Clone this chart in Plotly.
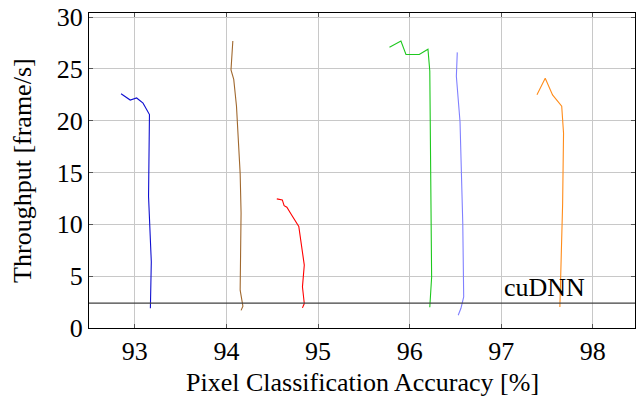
import plotly.graph_objects as go

# Data (accuracy %, throughput frame/s)
blue_x = [92.85, 92.95, 93.02, 93.09, 93.16, 93.15, 93.18, 93.17]
blue_y = [22.6, 22.0, 22.2, 21.7, 20.6, 12.7, 6.4, 1.9]

brown_x = [94.07, 94.05, 94.08, 94.11, 94.15, 94.16, 94.15, 94.18, 94.16]
brown_y = [27.7, 24.9, 24.0, 21.4, 14.9, 11.1, 3.65, 2.1, 1.7]

red_x = [94.55, 94.61, 94.63, 94.66, 94.70, 94.79, 94.85, 94.83, 94.85, 94.83]
red_y = [12.46, 12.36, 11.8, 11.65, 11.07, 9.8, 6.07, 3.97, 2.36, 1.94]

green_x = [95.78, 95.905, 95.96, 96.105, 96.20, 96.22, 96.24, 96.22]
green_y = [27.1, 27.7, 26.4, 26.4, 26.9, 24.8, 4.9, 2.0]

lblue_x = [96.52, 96.51, 96.55, 96.58, 96.59, 96.56, 96.53]
lblue_y = [26.6, 24.3, 19.9, 10.1, 3.0, 1.9, 1.23]

orange_x = [97.39, 97.48, 97.56, 97.66, 97.68, 97.67, 97.64]
orange_y = [22.5, 24.1, 22.5, 21.4, 18.8, 12.0, 2.03]

cudnn_y = 2.4
cudnn_label = "cuDNN"

x_ticks = [93, 94, 95, 96, 97, 98]
y_ticks = [0, 5, 10, 15, 20, 25, 30]

x_title = "Pixel Classification Accuracy [%]"
y_title = "Throughput [frame/s]"

series = [
    (blue_x, blue_y, "#1010d0"),
    (brown_x, brown_y, "#a0682e"),
    (red_x, red_y, "#ff0000"),
    (green_x, green_y, "#1ec81e"),
    (lblue_x, lblue_y, "#8080ff"),
    (orange_x, orange_y, "#ff8c1a"),
]

FONT = "Liberation Serif"
FS = 26

fig = go.Figure()
for xs, ys, c in series:
    fig.add_trace(go.Scatter(x=xs, y=ys, mode="lines", hoverinfo="skip",
                             line=dict(color=c, width=1.1), showlegend=False))

fig.add_shape(type="line", xref="paper", x0=0, x1=1, yref="y",
              y0=cudnn_y, y1=cudnn_y, line=dict(color="#404040", width=1.2))
fig.add_annotation(x=97.47, y=cudnn_y, yshift=16, text=cudnn_label,
                   showarrow=False, font=dict(family=FONT, size=FS, color="black"))

# axis titles
fig.add_annotation(xref="paper", yref="paper", x=0.5, y=-0.172, yanchor="middle",
                   text=x_title, showarrow=False,
                   font=dict(family=FONT, size=FS, color="black"))
fig.add_annotation(xref="paper", yref="paper", x=-0.122, y=0.5, xanchor="center",
                   yanchor="middle", textangle=-90, text=y_title, showarrow=False,
                   font=dict(family=FONT, size=FS, color="black"))

fig.update_layout(
    template="none",
    width=636, height=396,
    margin=dict(l=89, r=1, t=13, b=68, autoexpand=False),
    plot_bgcolor="white", paper_bgcolor="white",
    font=dict(family=FONT, size=FS, color="black"),
)
fig.update_xaxes(range=[92.5, 98.46], tickvals=x_ticks, ticks="inside", ticklen=4,
                 tickcolor="#555555", showgrid=True, gridcolor="#c8c8c8", gridwidth=1,
                 showline=True, linecolor="black", linewidth=1, mirror="ticks",
                 zeroline=False, automargin=False,
                 tickfont=dict(family=FONT, size=FS, color="black"))
fig.update_yaxes(range=[0, 30.4], tickvals=y_ticks, ticks="inside", ticklen=4,
                 tickcolor="#555555", showgrid=True, gridcolor="#c8c8c8", gridwidth=1,
                 showline=True, linecolor="black", linewidth=1, mirror="ticks",
                 zeroline=False, automargin=False,
                 tickfont=dict(family=FONT, size=FS, color="black"))

fig.write_html("out.html", config={"displayModeBar": False},
               post_script="document.body.style.margin='0px';")
